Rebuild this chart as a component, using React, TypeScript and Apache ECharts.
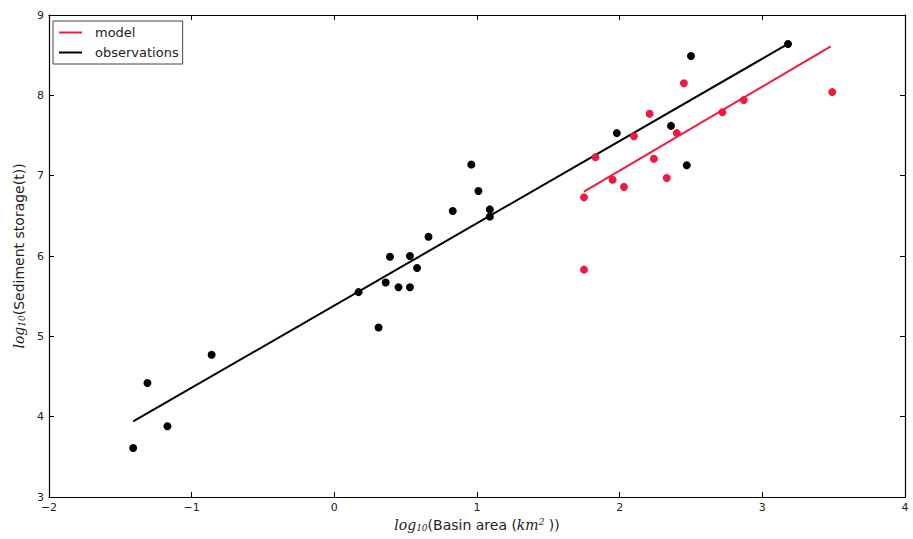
import React, { useEffect, useRef } from "react";
import * as echarts from "echarts";

const obsX = [-1.41, -1.31, -1.17, -0.86, 0.17, 0.31, 0.36, 0.39, 0.45, 0.53, 0.53, 0.58, 0.66, 0.83, 0.96, 1.01, 1.09, 1.09, 1.98, 2.36, 2.47, 2.5, 3.18];
const obsY = [3.61, 4.42, 3.88, 4.77, 5.55, 5.11, 5.67, 5.99, 5.61, 5.61, 6.0, 5.85, 6.24, 6.56, 7.14, 6.81, 6.58, 6.49, 7.53, 7.62, 7.13, 8.49, 8.64];
const modelX = [1.75, 1.75, 1.83, 1.95, 2.03, 2.1, 2.21, 2.24, 2.33, 2.4, 2.45, 2.72, 2.87, 3.49];
const modelY = [6.73, 5.83, 7.23, 6.95, 6.86, 7.49, 7.77, 7.21, 6.97, 7.53, 8.15, 7.79, 7.94, 8.04];
const obsFitX = [-1.41, 3.18];
const obsFitY = [3.94, 8.64];
const modelFitX = [1.75, 3.48];
const modelFitY = [6.8, 8.61];
const xTicks = [-2, -1, 0, 1, 2, 3, 4];
const yTicks = [3, 4, 5, 6, 7, 8, 9];

const RED = "#ee1a3f";
const FONT = "DejaVu Sans";

const zip = (a: number[], b: number[]) => a.map((v, i) => [v, b[i]]);
const minus = (v: number) => String(v).replace("-", "\u2212");

export default function App() {
  const ref = useRef<HTMLDivElement>(null);
  useEffect(() => {
    const chart = echarts.init(ref.current!, null, { renderer: "svg" });
    const axisCommon = {
      type: "value" as const,
      axisLine: { show: true, onZero: false, lineStyle: { color: "#000", width: 1.2 } },
      axisTick: { show: true, inside: true, length: 5, lineStyle: { color: "#000" } },
      splitLine: { show: false },
    };
    const rich = {
      it: { fontFamily: "DejaVu Serif", fontStyle: "italic" as const, fontSize: 14, color: "#222" },
      sub: { fontFamily: "DejaVu Serif", fontStyle: "italic" as const, fontSize: 9, color: "#222", verticalAlign: "bottom" as const, padding: [6, 0, 0, 0] },
      sup: { fontFamily: "DejaVu Serif", fontStyle: "italic" as const, fontSize: 9, color: "#222", padding: [0, 0, 6, 0] },
      n: { fontFamily: FONT, fontSize: 14, color: "#222" },
    };
    chart.setOption({
      animation: false,
      textStyle: { fontFamily: FONT },
      grid: { left: 49, right: 8, top: 15, bottom: 42 },
      legend: {
        orient: "vertical",
        left: 53,
        top: 21,
        data: ["model", "observations"],
        icon: "rect",
        itemWidth: 23,
        itemHeight: 2,
        itemGap: 7,
        padding: [5, 4, 5, 6],
        borderColor: "#444",
        borderWidth: 1,
        borderRadius: 0,
        textStyle: { fontFamily: FONT, fontSize: 13, color: "#222", padding: [0, 0, 0, 8] },
      },
      xAxis: [
        {
          ...axisCommon,
          min: -2,
          max: 4,
          interval: 1,
          position: "bottom",
          axisLabel: { fontFamily: FONT, fontSize: 11, color: "#222", margin: 5, formatter: (v: number) => minus(v) },
          name: "{it|log}{sub|10}{n|(Basin area (}{it|km}{sup|2}{n| ))}",
          nameLocation: "middle",
          nameGap: 17,
          nameTextStyle: { rich },
        },
        { ...axisCommon, min: -2, max: 4, interval: 1, position: "top", axisLabel: { show: false } },
      ],
      yAxis: [
        {
          ...axisCommon,
          min: 3,
          max: 9,
          interval: 1,
          position: "left",
          axisLabel: { fontFamily: FONT, fontSize: 11, color: "#222", margin: 5 },
          name: "{it|log}{sub|10}{n|(Sediment storage(t))}",
          nameLocation: "middle",
          nameGap: 21,
          nameTextStyle: { rich },
        },
        { ...axisCommon, min: 3, max: 9, interval: 1, position: "right", axisLabel: { show: false } },
      ],
      series: [
        {
          name: "observations",
          type: "line",
          data: zip(obsFitX, obsFitY),
          symbol: "none",
          lineStyle: { color: "#000", width: 2 },
          itemStyle: { color: "#000" },
          z: 2,
        },
        {
          name: "model",
          type: "line",
          data: zip(modelFitX, modelFitY),
          symbol: "none",
          lineStyle: { color: RED, width: 2 },
          itemStyle: { color: RED },
          z: 2,
        },
        {
          name: "obsPoints",
          type: "scatter",
          data: zip(obsX, obsY),
          symbolSize: 8,
          itemStyle: { color: "#000", opacity: 1 },
          z: 3,
        },
        {
          name: "modelPoints",
          type: "scatter",
          data: zip(modelX, modelY),
          symbolSize: 8,
          itemStyle: { color: RED, opacity: 1 },
          z: 3,
        },
      ],
    });
    return () => chart.dispose();
  }, []);
  return <div ref={ref} style={{ width: 913, height: 539, position: "absolute", left: 0, top: 0, background: "#fff" }} />;
}
